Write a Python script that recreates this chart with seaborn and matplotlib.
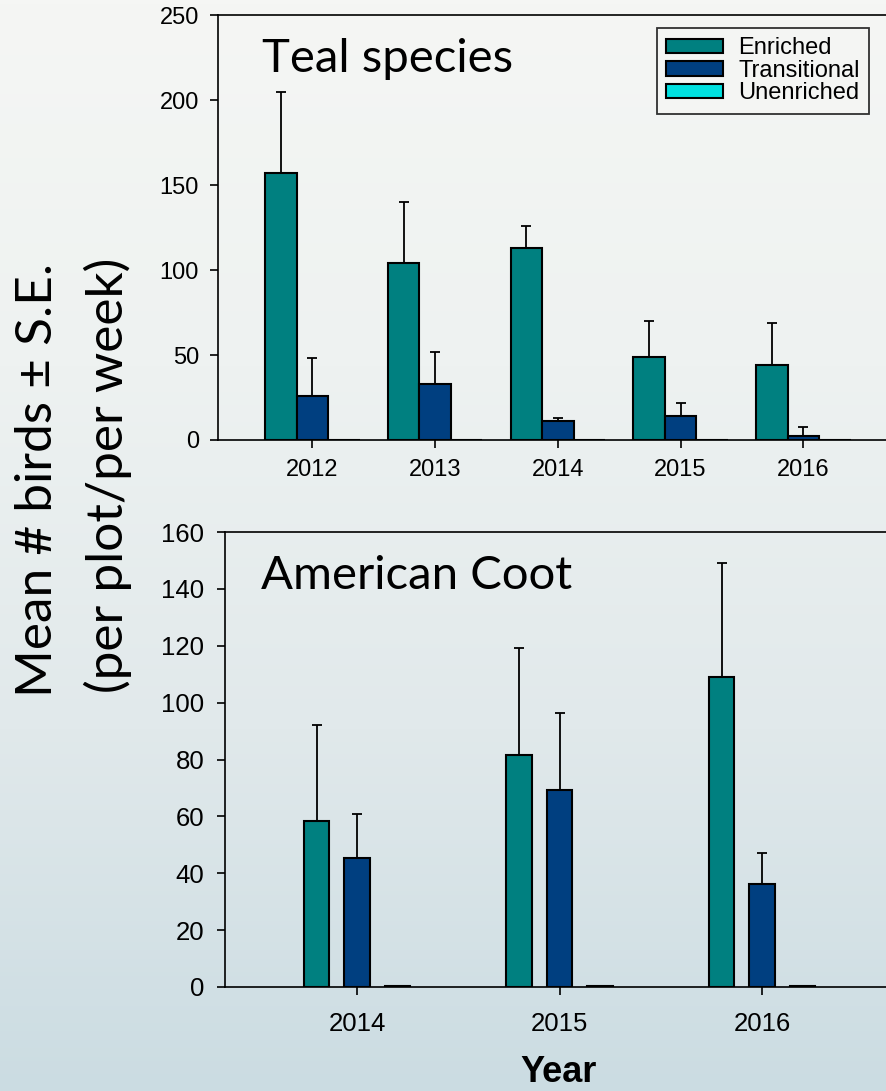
import numpy as np
import pandas as pd
import matplotlib
matplotlib.use("Agg")
import matplotlib.pyplot as plt
from matplotlib.patches import Patch
from matplotlib.colors import LinearSegmentedColormap
import seaborn as sns

# ---- data -------------------------------------------------------------
treatments = ["Enriched", "Transitional", "Unenriched"]
treatment_colors = ["#008080", "#003f80", "#00e0e0"]

teal_years = ["2012", "2013", "2014", "2015", "2016"]
teal_enriched = [157, 104, 113, 49, 44]
teal_enriched_se = [48, 36, 13, 21, 25]
teal_transitional = [26, 33, 11, 14, 2.5]
teal_transitional_se = [22, 19, 2, 8, 5]
teal_unenriched = [0, 0, 0, 0, 0]
teal_unenriched_se = [0, 0, 0, 0, 0]

coot_years = ["2014", "2015", "2016"]
coot_enriched = [58.5, 81.6, 109]
coot_enriched_se = [33.5, 37.5, 40]
coot_transitional = [45.2, 69.3, 36.1]
coot_transitional_se = [15.8, 26.9, 11.1]
coot_unenriched = [0.5, 0.2, 0.4]
coot_unenriched_se = [0, 0, 0]

teal_yticks = [0, 50, 100, 150, 200, 250]
coot_yticks = [0, 20, 40, 60, 80, 100, 120, 140, 160]


def long_table(years, means, ses):
    rows = []
    for trt, m, s in zip(treatments, means, ses):
        for y, mv, sv in zip(years, m, s):
            rows.append({"Year": y, "Treatment": trt, "Mean": mv, "SE": sv})
    return pd.DataFrame(rows)


teal_df = long_table(teal_years,
                     [teal_enriched, teal_transitional, teal_unenriched],
                     [teal_enriched_se, teal_transitional_se, teal_unenriched_se])
coot_df = long_table(coot_years,
                     [coot_enriched, coot_transitional, coot_unenriched],
                     [coot_enriched_se, coot_transitional_se, coot_unenriched_se])

# ---- figure -----------------------------------------------------------
sns.set_theme(style="ticks")
plt.rcParams["font.family"] = ["Liberation Sans", "DejaVu Sans"]
plt.rcParams["text.color"] = "black"
plt.rcParams["axes.labelcolor"] = "black"
plt.rcParams["xtick.color"] = "black"
plt.rcParams["ytick.color"] = "black"

W, H = 887, 1091
fig = plt.figure(figsize=(W / 100, H / 100), dpi=100)

# soft vertical background gradient
bg = fig.add_axes([0, 0, 1, 1], zorder=-10)
cmap = LinearSegmentedColormap.from_list(
    "bg", ["#f5f6f4", "#eef2f1", "#e1e9eb", "#cbdce2"])
grad = np.linspace(0, 1, 256).reshape(-1, 1)
bg.imshow(grad, aspect="auto", cmap=cmap, extent=[0, 1, 0, 1], origin="upper")
bg.set_axis_off()


def px_axes(left, top, right, bottom):
    return fig.add_axes([left / W, 1 - bottom / H, (right - left) / W,
                         (bottom - top) / H])


def draw_panel(ax, df, years, width, gap, ymax, yticks, fs, xpad, ypad):
    sns.barplot(data=df, x="Year", y="Mean", hue="Treatment",
                order=years, hue_order=treatments, palette=treatment_colors,
                width=width, gap=gap, dodge=True, errorbar=None,
                edgecolor="black", linewidth=1.5, saturation=1,
                legend=False, ax=ax)
    # upper-only standard-error whiskers
    for trt, cont in zip(treatments, ax.containers):
        sub = df[df["Treatment"] == trt].set_index("Year").loc[years]
        for bar, se in zip(cont.patches, sub["SE"]):
            if se <= 0:
                continue
            xc = bar.get_x() + bar.get_width() / 2
            ax.errorbar(xc, bar.get_height(), yerr=[[0], [se]], fmt="none",
                        ecolor="black", elinewidth=1.3, capsize=3.6,
                        capthick=1.3, zorder=1)
    ax.set_facecolor("none")
    ax.set_ylim(0, ymax)
    ax.set_yticks(yticks)
    for s in ["left", "top", "bottom"]:
        ax.spines[s].set_linewidth(1.2)
        ax.spines[s].set_color("black")
    ax.spines["right"].set_visible(False)
    ax.set_xlabel("")
    ax.set_ylabel("")
    ax.tick_params(axis="both", direction="out", length=6, width=1.2,
                   color="black", labelsize=fs, labelcolor="black")
    ax.tick_params(axis="x", pad=xpad)
    ax.tick_params(axis="y", pad=ypad)


# Teal species panel
ax1 = px_axes(218.5, 15.3, 218.5 + 5.532 * 122.7, 440)
draw_panel(ax1, teal_df, teal_years, 0.77, 0, 250, teal_yticks, 17, 8, 8)
ax1.set_xlim(-0.766, 4.766)

# American Coot panel
ax2 = px_axes(225, 532, 225 + 3.304 * 202.5, 987)
draw_panel(ax2, coot_df, coot_years, 0.6, 0.375, 160, coot_yticks, 18.5, 12, 9)
ax2.set_xlim(-0.652, 2.652)

# panel titles
fig.text(262 / W, 1 - 72 / H, "Teal species", fontsize=34,
         family=["Lato", "DejaVu Sans"], va="baseline", ha="left")
fig.text(261 / W, 1 - 589 / H, "American Coot", fontsize=34,
         family=["Lato", "DejaVu Sans"], va="baseline", ha="left")

# legend
handles = [Patch(facecolor=c, edgecolor="black", linewidth=1.5, label=t)
           for t, c in zip(treatments, treatment_colors)]
leg = fig.legend(handles=handles, loc="upper left",
                 bbox_to_anchor=(657 / W, 1 - 28 / H),
                 bbox_transform=fig.transFigure, fontsize=17,
                 frameon=True, fancybox=False, borderaxespad=0,
                 handlelength=2.4, handleheight=0.55, handletextpad=0.65,
                 labelspacing=0.02, borderpad=0.4)
leg.get_frame().set_edgecolor("black")
leg.get_frame().set_linewidth(1.3)
leg.get_frame().set_facecolor("#f5f6f4")

# shared axis titles
fig.text(38 / W, 1 - 480 / H, "Mean # birds \u00b1 S.E.", rotation=90,
         fontsize=37, family=["Lato", "DejaVu Sans"], ha="center", va="center")
fig.text(108 / W, 1 - 475 / H, "(per plot/per week)", rotation=90,
         fontsize=37, family=["Lato", "DejaVu Sans"], ha="center", va="center")
fig.text(559 / W, 1 - 1082 / H, "Year", fontsize=26, fontweight="bold",
         ha="center", va="baseline")

fig.savefig("out.png", dpi=100)
